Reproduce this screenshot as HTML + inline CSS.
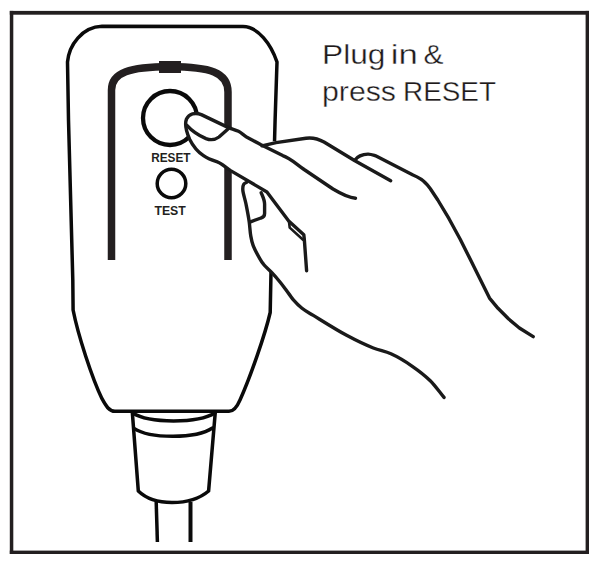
<!DOCTYPE html>
<html><head><meta charset="utf-8">
<style>
html,body{margin:0;padding:0;background:#fff;}
body{width:601px;height:562px;overflow:hidden;position:relative;}
svg{position:absolute;left:0;top:0;}
</style></head><body>
<svg width="601" height="562" viewBox="0 0 601 562">
<g fill="#231f20">
<rect x="9.8" y="10.9" width="579.2" height="3.8"/>
<rect x="9.8" y="10.9" width="3.5" height="543"/>
<rect x="585.6" y="10.9" width="3.4" height="543"/>
<rect x="9.8" y="550.6" width="579.2" height="3.4"/>
</g>
<g fill="none" stroke="#0a0a0a" stroke-width="3.5" stroke-linejoin="round" stroke-linecap="round">
<!-- device outline -->
<path d="M102,26.3 L243,26.6 C258,26.6 271,44 277,62 L275.1,120 L271,272 L270.2,312.5 C265,335 250,378 240,400 C237,407 234,411.3 229,411.3 L115,411.3 C109,411.3 106,406 102,398.7 C92,378 78,335 73.1,310 L72.8,280 L68.5,120 L67.5,62 C69,45 82,27 102,26.3 Z"/>
<!-- neck -->
<path d="M132.3,412 L138.3,491 C145,497.5 157,502.5 172,502.5 C188,502.5 201,497.5 208.6,491 L215.3,412"/>
<path d="M132.8,413 C149,423.5 198,423.5 214.8,413"/>
<path d="M134,428.4 C150,439 196,439 212.5,428"/>
<path d="M156.2,502 L157.4,542" stroke-linecap="butt"/>
<path d="M190.5,502 L190.5,542" stroke-width="4" stroke-linecap="butt"/>
<!-- test circle -->
<circle cx="171.5" cy="183.5" r="14.3" stroke-width="3.5"/>
<circle cx="170" cy="118" r="27" stroke-width="4.3"/>
</g>
<!-- inner U -->
<path d="M111.5,260 L111.5,90 C111.5,72 130,67 170,66.5 C210,67 228,72 228,92 L228,260" fill="none" stroke="#231f20" stroke-width="7.5"/>
<rect x="159" y="61" width="22" height="12" fill="#231f20"/>
<g font-family="Liberation Sans" font-weight="bold" font-size="12.3" fill="#231f20">
<text x="151.2" y="161.8" textLength="39.3" lengthAdjust="spacingAndGlyphs">RESET</text>
<text x="154.4" y="214.8" textLength="31.4" lengthAdjust="spacingAndGlyphs">TEST</text>
</g>
<!-- hand fill -->
<path fill="#fff" stroke="none" d="M193.9,113 L201.3,114.6 L215.2,121.5 L228,127.4 L240,133.3 L255,142 L280,141 L311.6,137.6 L324,142 L340,150.2 L355,160 L367.6,154.2 L375.6,155.6 L415,176.4 L421.4,178.5 L428.5,186.3 L442.7,207 L468.5,255.6 L489.5,299 L508,318.7 L533,336.5 L444,397.4 L430,380.5 L412.3,366.3 L390.9,353.8 L371.4,346.7 L350,336.9 L334.7,329.4 L313.4,316 L295.6,302.7 L288.5,294.7 L270.7,272.5 L258.5,254.7 L252.2,242.3 L249.6,224.5 L246.9,206.7 L242.1,190.2 L244.2,181.7 L220.6,164.2 L208.8,159.4 L196,149.8 L189.6,139.2 L186.4,128.5 L185.9,122.1 Z"/>
<g fill="none" stroke="#1a1a1a" stroke-width="3.4" stroke-linejoin="round" stroke-linecap="round">
<!-- index finger: top contour, tip, lower contour, thumb-inner line -->
<path d="M355.5,198.2 C350,197.8 343,195 333,189 L304.1,169.5 C295,163 290,158 282.7,155.6 L261,144.8 C256,142 251,139.5 247,137.3 C243.5,135 241,132.5 238.5,131.3 C235,129.6 232,129 228.5,127.6 L201.3,114.6 C195,112 189,114 186.5,119 C184.5,124 186,131 189.6,139.2 C193,146 198,152 203.5,155.7 C208,159 213,160.5 217.8,162.1 C222,163.5 225,167 230.6,170.6 L266.9,192 L288.7,220.9 L303.8,234.7 L304.3,239.1 L306.6,270.7"/>
<!-- nail -->
<path d="M186.9,125.3 C192,131 200,136 206,138.6 C211,140.5 215,140 219,137 L228,129"/>
<!-- hand top line -->
<path d="M262,145.8 L276,142.6 L306,138.2 C312,137.4 318,138.6 324,142 L354.9,160.8 L390.7,180.7"/>
<!-- third finger / back of hand -->
<path d="M355.1,160 C357,157 362,154 368.2,154.1 C371,154.2 373,155 375.6,155.8 L413,175 C418,177 422,179 426,183.5 C428,185.5 429,187 430.5,189 L437.8,200 L449,218.7 L460.2,239.2 L470.5,259.8 L479.8,278.4 L489.5,298.1 L498,308.3 L508.7,319 L519.4,328 L533.2,336.6"/>
<!-- thumb outer + palm -->
<path d="M246.5,182.3 C245.5,183.0 244.2,183.4 243.6,184.5 C242.9,185.8 242.7,187.5 242.8,189.6 C242.9,193.2 245.0,198.9 246.0,204.0 C247.1,209.6 248.4,216.1 249.2,221.7 C249.9,226.7 250.0,231.8 250.8,236.1 C251.4,239.6 252.0,242.4 253.2,245.7 C254.6,249.4 256.9,253.6 258.8,256.9 C260.4,259.6 261.5,261.8 263.5,264.2 C265.8,267.1 269.3,269.8 272.1,272.8 C275.0,275.9 277.8,279.2 280.6,282.7 C283.5,286.3 286.7,291.0 289.1,294.1 C290.8,296.3 291.6,297.8 293.4,299.8 C295.7,302.4 298.8,305.7 302.0,308.3 C305.4,311.0 308.5,312.5 313.3,315.4 C321.5,320.4 336.0,329.6 346.6,335.3 C355.9,340.3 365.2,344.8 373.3,348.0 C379.7,350.6 384.9,351.1 390.9,353.8 C397.8,356.9 405.7,361.7 412.3,366.3 C418.7,370.7 424.7,375.3 430.0,380.5 C435.2,385.6 439.3,391.8 444.0,397.4"/>
<!-- thumbnail -->
<path d="M261.2,192.8 C263,197 264.6,200 264.6,204 L264.6,213.5 C264.6,216.5 263,217.5 261,218 L250.5,221.8"/>
<!-- small fold -->
<path d="M289,221.5 L289.7,227.6 L303,239.8" stroke-width="2.6"/>
</g>
<g font-family="Liberation Sans" font-size="27.5" fill="#1e1a1b" stroke="#fff" stroke-width="0.35">
<text x="322" y="63.8" textLength="63.5" lengthAdjust="spacingAndGlyphs">Plug</text>
<text x="390.8" y="63.8" textLength="27" lengthAdjust="spacingAndGlyphs">in</text>
<text x="423.5" y="63.8" textLength="20" lengthAdjust="spacingAndGlyphs">&amp;</text>
<text x="322" y="100.8" textLength="74" lengthAdjust="spacingAndGlyphs">press</text>
<text x="403" y="100.8" textLength="93" lengthAdjust="spacingAndGlyphs">RESET</text>
</g>
</svg>
</body></html>
